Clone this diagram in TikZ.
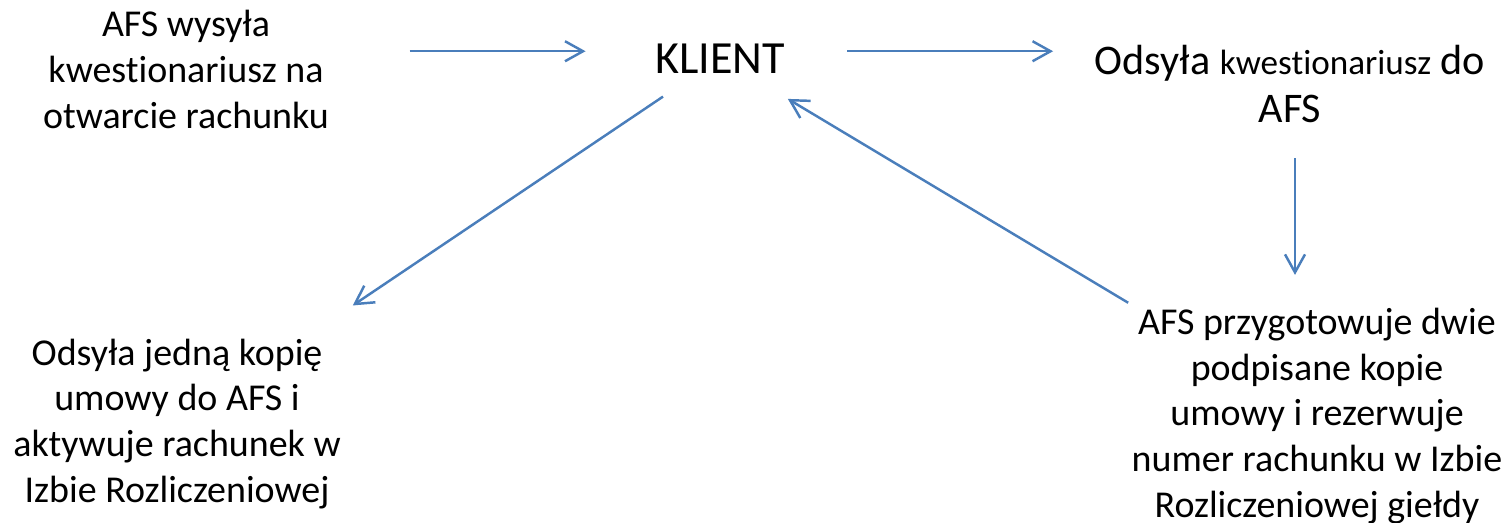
\documentclass[tikz,border=0pt]{standalone}
\usepackage{fontspec}
\setmainfont{Carlito}[Ligatures={NoCommon}]
\usetikzlibrary{arrows.meta}
\definecolor{flow}{RGB}{74,126,187}
\newcommand{\stepfont}{\fontsize{10.8}{12.95}\selectfont}
\tikzset{arrow/.style={-{Straight Barb[length=0.18cm,width=0.2cm]}, draw=flow, line width=0.7pt}}
\tikzset{step-text/.style={inner sep=0pt, anchor=base, align=center, font=\stepfont}}
\tikzset{big-text/.style={inner sep=0pt, anchor=base, align=center, font=\fontsize{13.1}{13.6}\selectfont}}

\begin{document}
\begin{tikzpicture}
      \useasboundingbox (0, 0) rectangle (15.04, -5.22);

      \node[step-text] (send) at (1.86, -1.28) {AFS wysyła\\kwestionariusz na\\otwarcie rachunku};
      \node[big-text] (klient) at (7.20, -0.73) {KLIENT};
      \node[big-text, font=\fontsize{12}{13.6}\selectfont] (back) at (12.90, -1.22) {Odsyła {\fontsize{10}{12}\selectfont kwestionariusz} do\\AFS};
      \node[step-text] (prep) at (13.17, -5.17) {AFS przygotowuje dwie\\podpisane kopie\\umowy i rezerwuje\\numer rachunku w Izbie\\Rozliczeniowej giełdy};
      \node[step-text] (copy) at (1.77, -5.02) {Odsyła jedną kopię\\umowy do AFS i\\aktywuje rachunek w\\Izbie Rozliczeniowej};

      \draw[arrow, shorten <=0.80cm, shorten >=0.69cm] ([yshift=0.07cm]send.east |- klient.west) -- ([yshift=0.07cm]klient.west);
      \draw[arrow, shorten <=0.62cm, shorten >=0.41cm] ([yshift=0.07cm]klient.east) -- ([yshift=0.07cm]klient.east -| back.west);
      \draw[arrow, shorten <=0.35cm, shorten >=0.33cm] ([xshift=0.05cm]back.south) -- ([xshift=0.05cm]back.south |- prep.north);
      \draw[arrow, shorten <=0.1cm, shorten >=0.49cm] (prep) -- (klient);
      \draw[arrow, shorten <=0.41cm, shorten >=0.59cm] (klient) -- (copy);

    \end{tikzpicture}
\end{document}
